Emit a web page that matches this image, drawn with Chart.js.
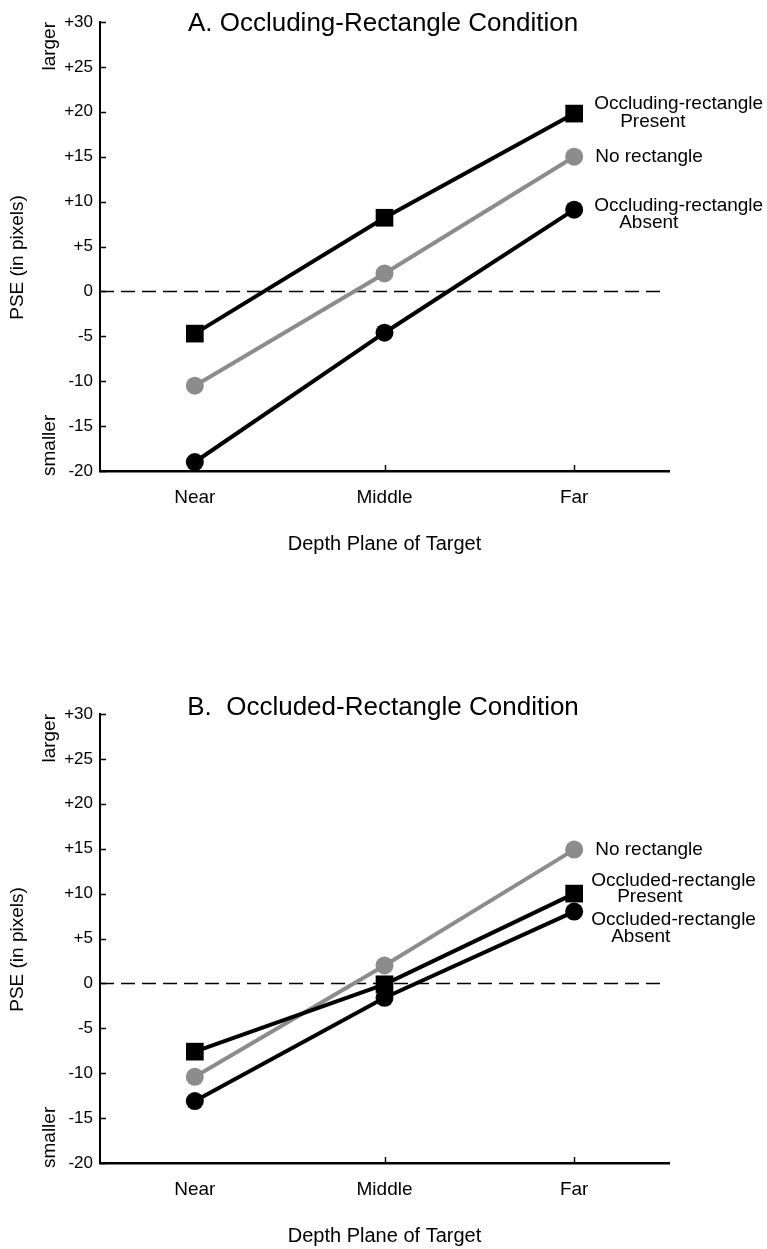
<!DOCTYPE html>
<html>
<head>
<meta charset="utf-8">
<script src="https://cdn.jsdelivr.net/npm/chart.js@4.4.1/dist/chart.umd.min.js"></script>
<style>
  body { margin: 0; background: #fff; }
  .panel { position: absolute; left: 0; width: 767px; height: 557px; }
  #panelA { top: 0; }
  #panelB { top: 692px; }
</style>
</head>
<body>
<div class="panel" id="panelA"><canvas id="chartA"></canvas></div>
<div class="panel" id="panelB"><canvas id="chartB"></canvas></div>
<script>
const depthLabels = ['Near', 'Middle', 'Far'];

// panel A: occluding rectangle
const occludingPresent = [-4.7, 8.2, 19.8];
const occludingNone = [-10.5, 2.0, 15.0];
const occludingAbsent = [-19.0, -4.6, 9.1];

// panel B: occluded rectangle
const occludedPresent = [-7.6, -0.1, 10.0];
const occludedNone = [-10.4, 2.0, 14.9];
const occludedAbsent = [-13.1, -1.6, 8.0];

const FONT = "'Liberation Sans', Arial, Helvetica, sans-serif";
const GRAY = '#8c8c8c';

// draws the title, the larger/smaller hints, the y title, inward ticks and the zero line
const decorPlugin = {
    id: 'decor',
    beforeDatasetsDraw(chart, args, opts) {
        const ctx = chart.ctx;
        const area = chart.chartArea;
        const y = chart.scales.y;
        const x = chart.scales.x;
        ctx.save();
        ctx.strokeStyle = '#000';
        ctx.lineWidth = 1.5;
        // inward ticks
        for (let v = -20; v <= 30; v += 5) {
            const py = Math.round(y.getPixelForValue(v)) + 0.5;
            ctx.beginPath();
            ctx.moveTo(area.left, py);
            ctx.lineTo(area.left + 6, py);
            ctx.stroke();
        }
        // no tick mark under Near in the original
        for (let i = 1; i < depthLabels.length; i++) {
            const px = Math.round(x.getPixelForValue(i)) + 0.5;
            ctx.beginPath();
            ctx.moveTo(px, area.bottom);
            ctx.lineTo(px, area.bottom - 6);
            ctx.stroke();
        }
        // dashed zero line
        const zy = Math.round(y.getPixelForValue(0)) + 0.5;
        ctx.setLineDash([14, 7]);
        ctx.beginPath();
        ctx.moveTo(area.left, zy);
        ctx.lineTo(area.right - 5, zy);
        ctx.stroke();
        ctx.restore();
    },
    afterDraw(chart, args, opts) {
        const ctx = chart.ctx;
        const area = chart.chartArea;
        ctx.save();
        ctx.fillStyle = '#000';
        ctx.font = '26px ' + FONT;
        ctx.textAlign = 'center';
        ctx.textBaseline = 'alphabetic';
        ctx.fillText(opts.title, 383, opts.titleY);

        ctx.font = '19px ' + FONT;
        // rotated side texts
        ctx.save();
        ctx.translate(50, area.top);
        ctx.rotate(-Math.PI / 2);
        ctx.textAlign = 'right';
        ctx.textBaseline = 'middle';
        ctx.fillText('larger', 0, 0);
        ctx.restore();

        ctx.save();
        ctx.translate(50, area.bottom + 5);
        ctx.rotate(-Math.PI / 2);
        ctx.textAlign = 'left';
        ctx.textBaseline = 'middle';
        ctx.fillText('smaller', 0, 0);
        ctx.restore();

        ctx.save();
        ctx.translate(18, (area.top + area.bottom) / 2 + 11);
        ctx.rotate(-Math.PI / 2);
        ctx.textAlign = 'center';
        ctx.textBaseline = 'middle';
        ctx.fillText('PSE (in pixels)', 0, 0);
        ctx.restore();

        // labels next to the last point of each series
        ctx.textAlign = 'left';
        ctx.textBaseline = 'middle';
        chart.data.datasets.forEach((ds, i) => {
            const meta = chart.getDatasetMeta(i);
            const pt = meta.data[meta.data.length - 1];
            ds.sideLabel.forEach(line => {
                ctx.fillText(line.text, pt.x + line.dx, pt.y + line.dy);
            });
        });
        ctx.restore();
    }
};

function makeSeries(values, color, style, radius, sideLabel) {
    return {
        data: values,
        borderColor: color,
        backgroundColor: color,
        borderWidth: 4,
        pointStyle: style,
        pointRadius: radius,
        pointBorderWidth: 0,
        pointBackgroundColor: color,
        sideLabel: sideLabel,
        clip: false
    };
}

function makeChart(id, title, titleY, datasets) {
    return new Chart(document.getElementById(id), {
        type: 'line',
        data: { labels: depthLabels, datasets: datasets },
        options: {
            responsive: true,
            maintainAspectRatio: false,
            animation: false,
            layout: { padding: { top: 22, right: 98, left: 0, bottom: 0 } },
            plugins: {
                legend: { display: false },
                tooltip: { enabled: false },
                decor: { title: title, titleY: titleY }
            },
            scales: {
                x: {
                    type: 'category',
                    offset: true,
                    ticks: { padding: 15, color: '#000', font: { family: FONT, size: 19 }, maxRotation: 0 },
                    grid: { display: false, drawTicks: false, tickLength: 0 },
                    border: { display: true, color: '#000', width: 2.5 },
                    title: {
                        display: true,
                        text: 'Depth Plane of Target',
                        color: '#000',
                        font: { family: FONT, size: 20 },
                        padding: { top: 0, bottom: 1 }
                    },
                    afterFit: s => { s.height = 86; }
                },
                y: {
                    min: -20,
                    max: 30,
                    ticks: {
                        stepSize: 5,
                        padding: 7,
                        color: '#000',
                        font: { family: FONT, size: 17 },
                        callback: v => v > 0 ? '+' + v : String(v)
                    },
                    grid: { display: false, drawTicks: false, tickLength: 0 },
                    border: { display: true, color: '#000', width: 2 },
                    afterFit: s => { s.width = 100; }
                }
            }
        },
        plugins: [decorPlugin]
    });
}

makeChart('chartA', 'A. Occluding-Rectangle Condition', 31, [
    makeSeries(occludingPresent, '#000', 'rect', 12.5, [
        { text: 'Occluding-rectangle', dx: 20, dy: -10 },
        { text: 'Present', dx: 46, dy: 8 }
    ]),
    makeSeries(occludingNone, GRAY, 'circle', 9, [
        { text: 'No rectangle', dx: 21, dy: 0 }
    ]),
    makeSeries(occludingAbsent, '#000', 'circle', 9, [
        { text: 'Occluding-rectangle', dx: 20, dy: -4 },
        { text: 'Absent', dx: 45, dy: 13 }
    ])
]);

makeChart('chartB', 'B.  Occluded-Rectangle Condition', 23, [
    makeSeries(occludedPresent, '#000', 'rect', 12.5, [
        { text: 'Occluded-rectangle', dx: 17, dy: -13 },
        { text: 'Present', dx: 43, dy: 3 }
    ]),
    makeSeries(occludedNone, GRAY, 'circle', 9, [
        { text: 'No rectangle', dx: 21, dy: 0 }
    ]),
    makeSeries(occludedAbsent, '#000', 'circle', 9, [
        { text: 'Occluded-rectangle', dx: 17, dy: 8 },
        { text: 'Absent', dx: 37, dy: 25 }
    ])
]);
</script>
</body>
</html>
